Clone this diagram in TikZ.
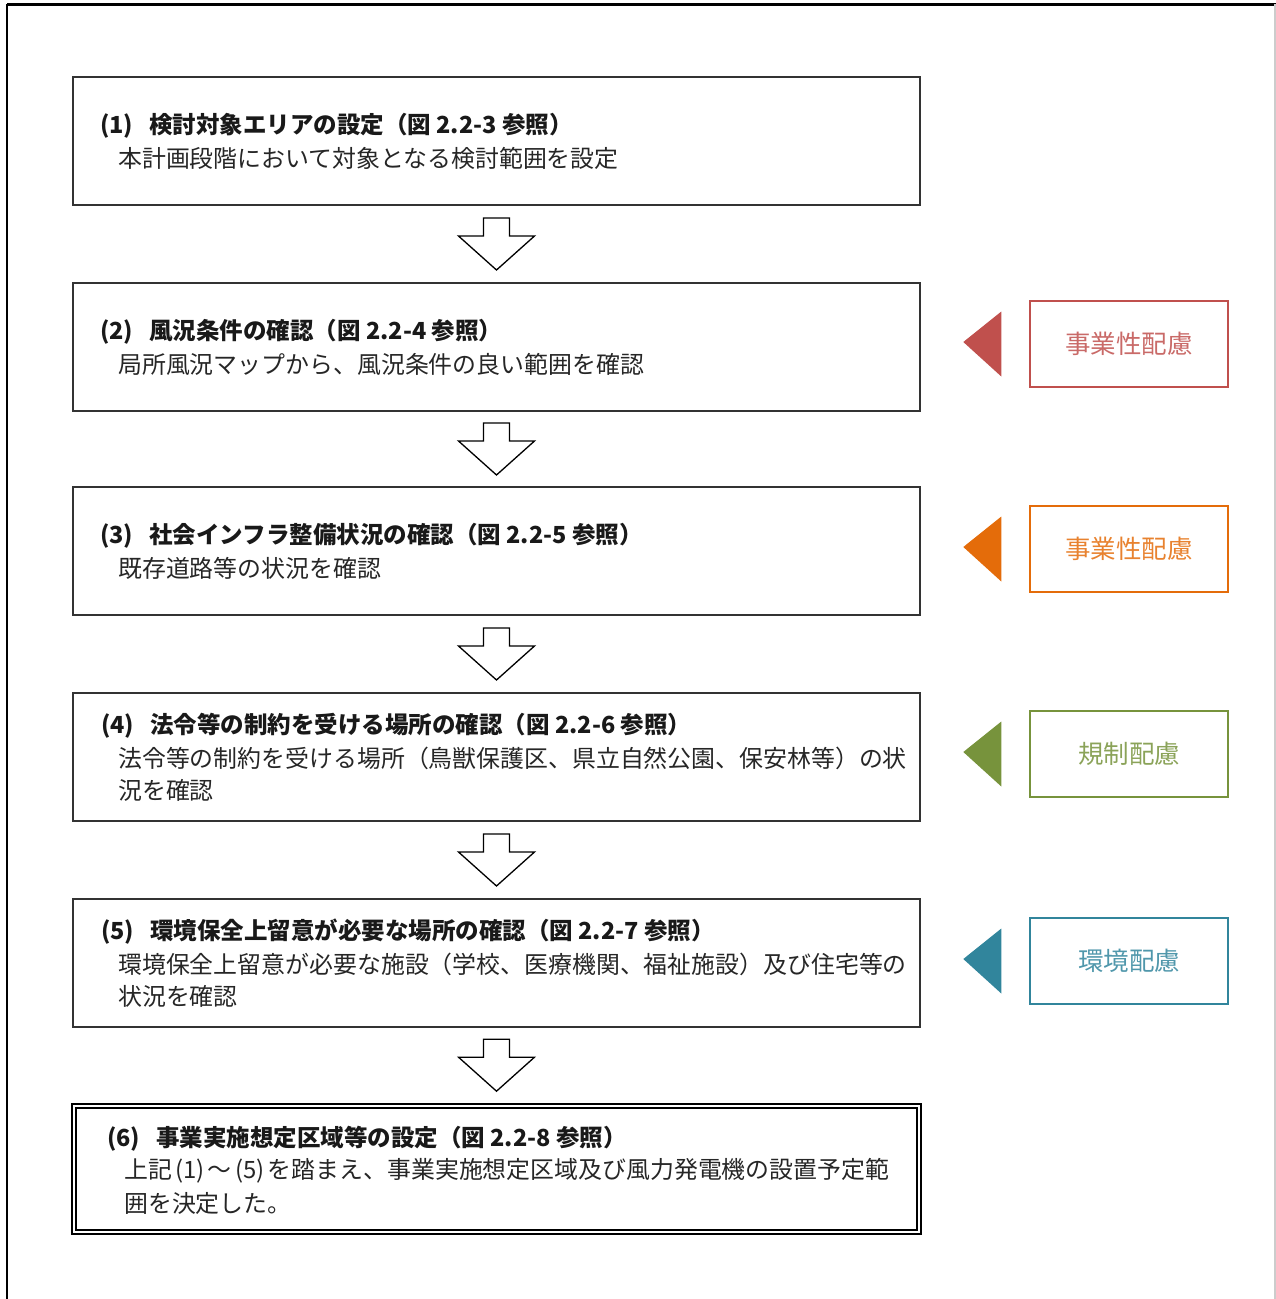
\documentclass[tikz,border=0pt]{standalone}
\usepackage{fontspec}
\newfontfamily\jp{Noto Sans CJK JP}
\usetikzlibrary{calc}
\definecolor{cred}{HTML}{C0504D}
\definecolor{cora}{HTML}{E46C0A}
\definecolor{cgrn}{HTML}{77933C}
\definecolor{cblu}{HTML}{31859C}
\definecolor{boxline}{HTML}{333333}
\newcommand{\gapsp}{\hspace{16pt}}
\newcommand{\pbox}[1]{\makebox[36pt]{#1}}
\begin{document}
\begin{tikzpicture}[x=1pt,y=-1pt,
  stepbox/.style={draw=boxline,line width=1.1pt,minimum width=847pt,minimum height=128pt,inner sep=0pt},
  ttl/.style={anchor=west,inner sep=0pt,font=\jp\bfseries\fontsize{23.5}{32}\selectfont,text=black!90},
  bdy/.style={anchor=west,inner sep=0pt,font=\jp\fontsize{23.9}{32}\selectfont,text=black!85},
  sidebox/.style={draw=#1,line width=1.4pt,minimum width=198pt,minimum height=86pt,inner sep=0pt,text=#1!85!white,font=\jp\fontsize{25.5}{30}\selectfont},
  pics/downarrow/.style={code={
    \draw[line width=1.3pt,fill=white,line join=miter] (-13,-26) -- (13,-26) -- (13,-8) -- (38,-8) -- (0,26) -- (-38,-8) -- (-13,-8) -- cycle;}}
]
\useasboundingbox (0,0) rectangle (1276,1299);
% outer frame
\draw[line width=3pt] (7,4) -- (1276,4);
\draw[line width=2.4pt] (7,4) -- (7,1299);
\draw[line width=1.5pt,black!20] (1275,4) -- (1275,1299);

% main boxes
\node[stepbox] (b1) at (496.5,141) {};
\node[stepbox] (b2) at (496.5,347) {};
\node[stepbox] (b3) at (496.5,551) {};
\node[stepbox] (b4) at (496.5,757) {};
\node[stepbox] (b5) at (496.5,963) {};
\node[draw=black,line width=2.4pt,minimum width=849pt,minimum height=130pt,inner sep=0pt] (b6) at (496.5,1169) {};
\node[draw=black,line width=1.1pt,minimum width=841pt,minimum height=122pt,inner sep=0pt] (b6i) at (b6.center) {};

% texts
\node[ttl] (t1) at (100,126) {(1)\gapsp 検討対象エリアの設定（図 2.2-3 参照）};
\node[bdy] (d1) at (118,158) {本計画段階において対象となる検討範囲を設定};
\node[ttl] (t2) at (100,332) {(2)\gapsp 風況条件の確認（図 2.2-4 参照）};
\node[bdy] (d2) at (118,364) {局所風況マップから、風況条件の良い範囲を確認};
\node[ttl] (t3) at (100,536) {(3)\gapsp 社会インフラ整備状況の確認（図 2.2-5 参照）};
\node[bdy] (d3) at (118,568) {既存道路等の状況を確認};
\node[ttl] (t4) at (101,726) {(4)\gapsp 法令等の制約を受ける場所の確認（図 2.2-6 参照）};
\node[bdy] (d4a) at (118,758) {法令等の制約を受ける場所（鳥獣保護区、県立自然公園、保安林等）の状};
\node[bdy] (d4b) at (118,790) {況を確認};
\node[ttl] (t5) at (101,932) {(5)\gapsp 環境保全上留意が必要な場所の確認（図 2.2-7 参照）};
\node[bdy] (d5a) at (118,964) {環境保全上留意が必要な施設（学校、医療機関、福祉施設）及び住宅等の};
\node[bdy] (d5b) at (118,996) {状況を確認};
\node[ttl] (t6) at (107,1139) {(6)\gapsp 事業実施想定区域等の設定（図 2.2-8 参照）};
\node[bdy] (d6a) at (124,1171) {上記\pbox{(1)}～\pbox{(5)}を踏まえ、事業実施想定区域及び風力発電機の設置予定範};
\node[bdy] (d6b) at (124,1203) {囲を決定した。};

% block arrows between boxes
\pic at ($(b1.south)!0.5!(b2.north)$) {downarrow};
\pic at ($(b2.south)!0.5!(b3.north)$) {downarrow};
\pic at ($(b3.south)!0.5!(b4.north)$) {downarrow};
\pic at ($(b4.south)!0.5!(b5.north)$) {downarrow};
\pic at ($(b5.south)!0.5!(b6.north)$) {downarrow};

% side labels
\node[sidebox=cred] (s2) at (1129,344) {事業性配慮};
\node[sidebox=cora] (s3) at (1129,549) {事業性配慮};
\node[sidebox=cgrn] (s4) at (1129,754) {規制配慮};
\node[sidebox=cblu] (s5) at (1129,961) {環境配慮};
\foreach \s/\c in {s2/cred,s3/cora,s4/cgrn,s5/cblu}{
  \fill[\c] ($(\s.west)+(-28,-32.5)$) -- ($(\s.west)+(-66,-2)$) -- ($(\s.west)+(-28,32.5)$) -- cycle;
}
\end{tikzpicture}
\end{document}
